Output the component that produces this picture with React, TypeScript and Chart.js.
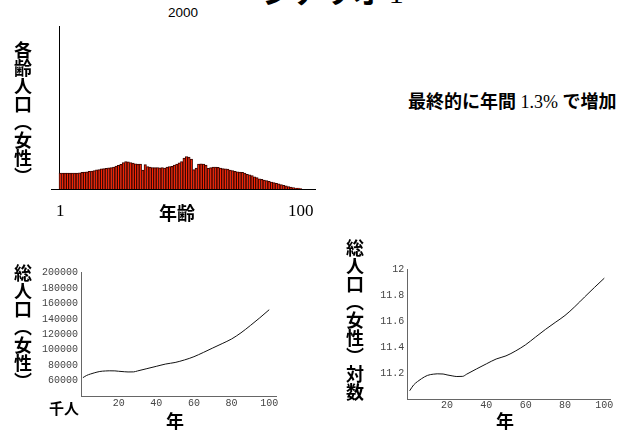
import React, { useEffect, useRef } from 'react';
import { Chart, registerables } from 'chart.js';
Chart.register(...registerables);

// ---------- data ----------
const ages = Array.from({ length: 100 }, (_, i) => i + 1);
const femaleByAge = [
  576, 576, 576, 576, 576, 576, 576, 576, 587, 605,
  612, 619, 641, 648, 666, 691, 706, 727, 738, 749,
  763, 774, 792, 828, 857, 893, 954, 990, 983, 954,
  936, 911, 900, 900, 684, 882, 810, 792, 774, 774,
  774, 767, 774, 756, 792, 810, 817, 864, 900, 947,
  990, 1116, 1170, 1152, 1080, 702, 756, 900, 911, 900,
  864, 749, 774, 792, 792, 781, 756, 738, 731, 720,
  684, 666, 641, 623, 612, 605, 576, 533, 511, 490,
  439, 410, 367, 346, 324, 302, 274, 252, 234, 209,
  187, 158, 137, 115, 86, 68, 47, 36, 29, 18,
];
const ageTicks = [1, 100];

const years = [1, 3, 5, 7, 10, 13, 15, 18, 20, 23, 25, 28, 30, 35, 40, 45, 50, 55, 60, 65, 70, 75, 80, 85, 90, 95, 100];
const totalFemale = [
  63800, 66700, 68500, 70000, 71800, 72500, 72700, 72600, 72100, 71500, 71200, 71300, 72500,
  75500, 78500, 81500, 83500, 86800, 91000, 96500, 102300, 108000, 114000, 122000, 131500, 141500, 152000,
];
const totalFemaleLog = totalFemale.map((v) => Math.log(v));
const yearTicks = [20, 40, 60, 80, 100];
const popTicks = [60000, 80000, 100000, 120000, 140000, 160000, 180000, 200000];
const logTicks = [11.2, 11.4, 11.6, 11.8, 12];

// ---------- styles ----------
const CJK = '"Noto Sans CJK JP", "Noto Sans", sans-serif';
const MONO = '"Liberation Mono", "DejaVu Sans Mono", monospace';
const SERIF = '"Liberation Serif", serif';
const tickGrey = '#444';

function useChart(ref: React.RefObject<HTMLCanvasElement | null>, build: () => any) {
  useEffect(() => {
    if (!ref.current) return;
    const chart = new Chart(ref.current, build());
    return () => chart.destroy();
  }, []);
}

function fixTicks(values: number[]) {
  return (scale: any) => {
    scale.ticks = values.map((v) => ({ value: v }));
  };
}

function BarPanel() {
  const ref = useRef<HTMLCanvasElement>(null);
  useChart(ref, () => ({
    type: 'bar',
    data: {
      datasets: [
        {
          data: ages.map((a, i) => ({ x: a, y: femaleByAge[i] })),
          backgroundColor: '#ff2200',
          borderColor: '#3a0600',
          borderWidth: 1,
          barPercentage: 1,
          categoryPercentage: 1,
        },
      ],
    },
    options: {
      animation: false,
      responsive: false,
      events: [],
      layout: { padding: { left: 51, right: 25, top: 26, bottom: 0 } },
      plugins: { legend: { display: false }, tooltip: { enabled: false }, title: { display: false } },
      scales: {
        x: {
          type: 'linear',
          min: -2.8,
          max: 105.9,
          offset: false,
          afterBuildTicks: fixTicks(ageTicks),
          afterFit: (s: any) => { s.height = 41; },
          grid: { display: false, drawTicks: false, tickLength: 0 },
          border: { display: true, color: '#000', width: 1 },
          ticks: {
            padding: 12,
            maxRotation: 0,
            autoSkip: false,
            color: '#000',
            font: { family: SERIF, size: 17 },
            callback: (v: any) => String(v),
          },
        },
        y: {
          type: 'linear',
          position: { x: 0.5 },
          min: 0,
          max: 5900,
          grid: { display: false, drawTicks: false, tickLength: 0 },
          border: { display: true, color: '#000', width: 1 },
          ticks: { display: false },
          afterFit: (s: any) => { s.width = 0; },
        },
      },
    },
  }));
  return <canvas ref={ref} width={340} height={230} style={{ position: 'absolute', left: 0, top: 0 }} />;
}

function LinePanel(props: {
  left: number; top: number; width: number; height: number;
  values: number[]; yMin: number; yMax: number; xMax: number; yTicks: number[];
  padRight: number; padTop: number; yWidth: number; xHeight: number; yPad: number; xPad: number;
  fmt: (v: number) => string;
}) {
  const ref = useRef<HTMLCanvasElement>(null);
  useChart(ref, () => ({
    type: 'line',
    data: {
      datasets: [
        {
          data: years.map((y, i) => ({ x: y, y: props.values[i] })),
          borderColor: '#111',
          borderWidth: 1,
          pointRadius: 0,
          fill: false,
          cubicInterpolationMode: 'monotone',
        },
      ],
    },
    options: {
      animation: false,
      responsive: false,
      events: [],
      layout: { padding: { left: 0, right: props.padRight, top: props.padTop, bottom: 0 } },
      plugins: { legend: { display: false }, tooltip: { enabled: false } },
      scales: {
        x: {
          type: 'linear',
          min: 0,
          max: props.xMax,
          afterBuildTicks: fixTicks(yearTicks),
          afterFit: (s: any) => { s.height = props.xHeight; },
          grid: { display: false, drawTicks: false, tickLength: 0 },
          border: { display: true, color: '#666', width: 1 },
          ticks: {
            padding: props.xPad,
            maxRotation: 0,
            autoSkip: false,
            color: tickGrey,
            font: { family: MONO, size: 10 },
            callback: (v: any) => String(v),
          },
        },
        y: {
          type: 'linear',
          min: props.yMin,
          max: props.yMax,
          afterBuildTicks: fixTicks(props.yTicks),
          afterFit: (s: any) => { s.width = props.yWidth; },
          grid: { display: false, drawTicks: false, tickLength: 0 },
          border: { display: true, color: '#666', width: 1 },
          ticks: {
            padding: props.yPad,
            autoSkip: false,
            color: tickGrey,
            font: { family: MONO, size: 10 },
            callback: (v: any) => props.fmt(Number(v)),
          },
        },
      },
    },
  }));
  return (
    <canvas
      ref={ref}
      width={props.width}
      height={props.height}
      style={{ position: 'absolute', left: props.left, top: props.top }}
    />
  );
}

const txt = (size: number, extra: React.CSSProperties = {}): React.CSSProperties => ({
  position: 'absolute',
  fontFamily: CJK,
  fontWeight: 700,
  fontSize: size,
  lineHeight: `${size}px`,
  whiteSpace: 'nowrap',
  color: '#000',
  ...extra,
});

const vert = (left: number, top: number): React.CSSProperties =>
  txt(18, { left, top, writingMode: 'vertical-rl' as any });

export default function App() {
  return (
    <div style={{ position: 'absolute', left: 0, top: 0, width: 619, height: 435, overflow: 'hidden', background: '#fff' }}>
      <div style={txt(30, { left: 262, top: -25 })}>
        シナリオ <span style={{ fontFamily: SERIF, fontWeight: 400 }}>1</span>
      </div>
      <div style={{ position: 'absolute', left: 153, top: 5, width: 60, textAlign: 'center', fontFamily: '"Liberation Sans", Arial, sans-serif', fontSize: 13.5, lineHeight: '16px' }}>
        2000
      </div>

      <BarPanel />
      <div style={vert(14, 41)}>各齢人口（女性）</div>
      <div style={txt(18, { left: 159, top: 203 })}>年齢</div>

      <div style={txt(18, { left: 408, top: 91 })}>
        最終的に年間<span style={{ fontFamily: SERIF, fontWeight: 400 }}> 1.3% </span>で増加
      </div>

      <LinePanel
        left={0} top={240} width={300} height={195}
        values={totalFemale} yMin={40000} yMax={200000} xMax={103.6} yTicks={popTicks}
        padRight={24} padTop={32.7} yWidth={81} xHeight={39} yPad={3} xPad={1}
        fmt={(v) => String(v)}
      />
      <div style={vert(14, 264)}>総人口（女性）</div>
      <div style={txt(15, { left: 49, top: 400 })}>千人</div>
      <div style={txt(18, { left: 166, top: 411 })}>年</div>

      <LinePanel
        left={330} top={235} width={289} height={200}
        values={totalFemaleLog} yMin={11} yMax={12} xMax={102.9} yTicks={logTicks}
        padRight={9} padTop={34.3} yWidth={77.7} xHeight={36} yPad={3.5} xPad={0}
        fmt={(v) => (Number.isInteger(v) ? String(v) : v.toFixed(1))}
      />
      <div style={vert(346, 239)}>総人口（女性）対数</div>
      <div style={txt(18, { left: 496, top: 411 })}>年</div>
    </div>
  );
}
